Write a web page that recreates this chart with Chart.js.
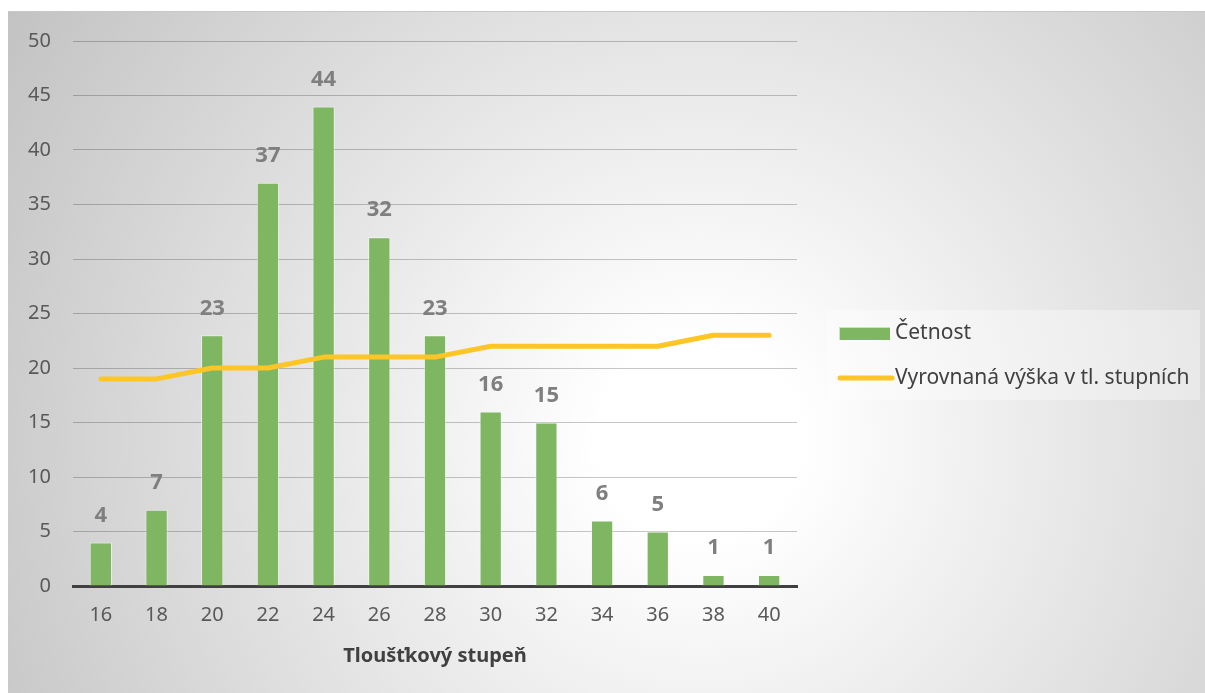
<!DOCTYPE html>
<html>
<head>
<meta charset="utf-8">
<script src="https://cdn.jsdelivr.net/npm/chart.js@4.4.1/dist/chart.umd.min.js"></script>
<style>
  html, body { margin: 0; padding: 0; background: #fff; }
  #wrap { width: 1205px; height: 693px; position: relative; }
</style>
</head>
<body>
<div id="wrap"><canvas id="chart" width="1205" height="693"></canvas></div>
<script>
const categories = ["16", "18", "20", "22", "24", "26", "28", "30", "32", "34", "36", "38", "40"];
const cetnost = [4, 7, 23, 37, 44, 32, 23, 16, 15, 6, 5, 1, 1];
const vyrovnanaVyska = [19, 19, 20, 20, 21, 21, 21, 22, 22, 22, 22, 23, 23];
const seriesNames = ["Četnost", "Vyrovnaná výška v tl. stupních"];
const axisTitle = "Tloušťkový stupeň";

const FONT = "'Noto Sans', 'Open Sans', sans-serif";
const GREEN = "#7fb661";
const YELLOW = "#fdc526";

// grey radial background like the Excel chart area
const backgroundPlugin = {
  id: "bg",
  beforeDraw(chart) {
    const ctx = chart.ctx;
    ctx.save();
    const g = ctx.createRadialGradient(700, 440, 0, 700, 440, 820);
    g.addColorStop(0, "#ffffff");
    g.addColorStop(0.12, "#ffffff");
    g.addColorStop(1, "#c2c2c2");
    ctx.fillStyle = g;
    ctx.fillRect(8, 11, 1197, 682);
    ctx.fillStyle = "#c8c8c8";
    ctx.fillRect(8, 11, 1197, 1);
    ctx.restore();
  }
};

// value labels over bars
const labelsPlugin = {
  id: "barLabels",
  afterDatasetsDraw(chart) {
    const ctx = chart.ctx;
    const meta = chart.getDatasetMeta(0);
    ctx.save();
    ctx.font = "bold 22px " + FONT;
    ctx.fillStyle = "#7f7f7f";
    ctx.textAlign = "center";
    ctx.textBaseline = "middle";
    meta.data.forEach((bar, i) => {
      ctx.fillText(String(cetnost[i]), bar.x, bar.y - 27);
    });
    ctx.restore();
  }
};

// legend box at right
const legendPlugin = {
  id: "sideLegend",
  afterDraw(chart) {
    const ctx = chart.ctx;
    ctx.save();
    ctx.fillStyle = "rgba(255,255,255,0.35)";
    ctx.fillRect(827, 310, 373, 90);
    ctx.fillStyle = GREEN;
    ctx.strokeStyle = "rgba(255,255,255,0.6)";
    ctx.lineWidth = 1;
    ctx.fillRect(839, 327, 51, 13);
    ctx.strokeRect(839.5, 327.5, 51, 13);
    ctx.strokeStyle = YELLOW;
    ctx.lineWidth = 5;
    ctx.lineCap = "round";
    ctx.beginPath();
    ctx.moveTo(840, 378);
    ctx.lineTo(892, 378);
    ctx.stroke();
    ctx.font = "21px " + FONT;
    ctx.fillStyle = "#404040";
    ctx.textBaseline = "middle";
    ctx.fillText(seriesNames[0], 895, 333);
    ctx.fillText(seriesNames[1], 895, 378);
    ctx.restore();
  }
};

new Chart(document.getElementById("chart"), {
  data: {
    labels: categories,
    datasets: [
      {
        type: "bar",
        label: seriesNames[0],
        data: cetnost,
        backgroundColor: GREEN,
        borderColor: "rgba(255,255,255,0.5)",
        borderWidth: 1,
        categoryPercentage: 1,
        barPercentage: 0.4,
        order: 2,
      },
      {
        type: "line",
        label: seriesNames[1],
        data: vyrovnanaVyska,
        borderColor: YELLOW,
        borderWidth: 5,
        borderCapStyle: "round",
        borderJoinStyle: "round",
        pointRadius: 0,
        tension: 0,
        order: 1,
      },
    ],
  },
  options: {
    responsive: false,
    animation: false,
    layout: { padding: { left: 8, top: 41, right: 408, bottom: 25 } },
    plugins: { legend: { display: false }, tooltip: { enabled: false } },
    scales: {
      x: {
        grid: { display: false, drawTicks: false },
        border: { color: "#404040", width: 3 },
        ticks: { color: "#595959", font: { family: FONT, size: 20 }, padding: 17 },
        title: {
          display: true,
          text: axisTitle,
          color: "#404040",
          font: { family: FONT, size: 20, weight: "bold" },
          padding: { top: 0, bottom: 0 },
        },
      },
      y: {
        min: 0,
        max: 50,
        ticks: { stepSize: 5, color: "#595959", font: { family: FONT, size: 20 }, padding: 22 },
        grid: { color: "rgba(0,0,0,0.22)", drawTicks: false },
        border: { display: false },
        afterFit(scale) { scale.width = 65; },
      },
    },
  },
  plugins: [backgroundPlugin, labelsPlugin, legendPlugin],
});
</script>
</body>
</html>
